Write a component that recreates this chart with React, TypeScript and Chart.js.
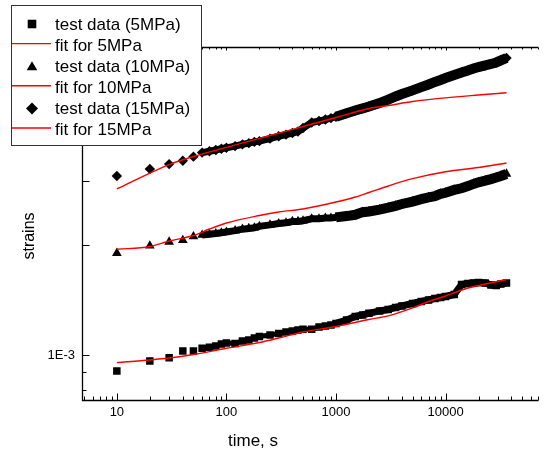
import React, { useEffect, useRef } from "react";
import { Chart, registerables } from "chart.js";

Chart.register(...registerables);

const FONT = '"Liberation Sans", Arial, Helvetica, sans-serif';
const UNIT = 1e-3; // strain values below are given in units of 1E-3

// ---- test data (time in s) ----
const testTimes = [
  10, 20, 30, 40, 50, 60, 70, 80, 90, 100,
  120, 140, 160, 180, 200,
  250, 300, 350, 400, 450, 500,
  600, 700, 800, 900, 1000,
  1250, 1500, 1750, 2000,
  2500, 3000, 3500, 4000,
  5000, 6000, 7000, 8000, 9000, 10000,
  12000, 14000, 16000, 18000, 20000,
  23000, 26000, 29000, 32000, 36000,
];

const strain5MPa = [
  0.904, 0.963, 0.983, 1.025, 1.025, 1.043, 1.05, 1.058, 1.072, 1.079,
  1.075, 1.092, 1.099, 1.113, 1.124,
  1.134, 1.145, 1.156, 1.163, 1.171, 1.176,
  1.176, 1.193, 1.2, 1.208, 1.22,
  1.247, 1.275, 1.287, 1.3,
  1.32, 1.332, 1.349, 1.362,
  1.383, 1.401, 1.414, 1.428, 1.437, 1.446,
  1.464, 1.56, 1.569, 1.574, 1.579,
  1.574, 1.555, 1.55, 1.564, 1.574,
];

const strain10MPa = [
  1.9, 1.99, 2.04, 2.06, 2.11, 2.13, 2.14, 2.15, 2.16, 2.17,
  2.19, 2.21, 2.22, 2.23, 2.25,
  2.27, 2.29, 2.3, 2.32, 2.32, 2.33,
  2.36, 2.36, 2.37, 2.37, 2.38,
  2.4, 2.42, 2.46, 2.47,
  2.5, 2.53, 2.56, 2.59,
  2.63, 2.67, 2.7, 2.72, 2.76, 2.78,
  2.83, 2.86, 2.9, 2.94, 2.97,
  3.0, 3.03, 3.06, 3.09, 3.13,
];

const strain15MPa = [
  3.09, 3.23, 3.33, 3.4, 3.49, 3.58, 3.61, 3.64, 3.67, 3.69,
  3.73, 3.77, 3.8, 3.83, 3.85,
  3.91, 3.97, 4.01, 4.05, 4.09, 4.18,
  4.33, 4.37, 4.41, 4.45, 4.49,
  4.59, 4.67, 4.73, 4.79,
  4.89, 5.0, 5.1, 5.18,
  5.3, 5.41, 5.5, 5.59, 5.66, 5.73,
  5.84, 5.93, 6.01, 6.08, 6.14,
  6.2, 6.26, 6.32, 6.4, 6.5,
];

// ---- fits ----
const fit5Times = [10, 20, 30, 50, 100, 200, 300, 500, 1000, 2000, 3000, 5000, 7000, 10000, 15000, 20000, 36000];
const fit5MPa = [0.953, 0.969, 0.981, 1.003, 1.043, 1.082, 1.113, 1.156, 1.197, 1.251, 1.279, 1.345, 1.401, 1.45, 1.516, 1.55, 1.609];

const fit10Times = [10, 20, 30, 50, 70, 100, 200, 300, 500, 1000, 1500, 2000, 3000, 5000, 10000, 20000, 36000];
const fit10MPa = [1.947, 1.981, 2.051, 2.123, 2.212, 2.297, 2.409, 2.463, 2.509, 2.622, 2.706, 2.784, 2.901, 3.038, 3.173, 3.26, 3.354];

const fit15Times = [10, 20, 30, 50, 100, 200, 300, 500, 1000, 2000, 3000, 5000, 10000, 20000, 36000];
const fit15MPa = [2.847, 3.148, 3.321, 3.494, 3.699, 3.915, 4.048, 4.22, 4.467, 4.727, 4.817, 4.94, 5.056, 5.147, 5.22];

// ---- axes ----
const X_MIN = 4.806;
const X_MAX = 70410;
const Y_MIN = 7.53e-4;
const Y_MAX = 6.966e-3;
const xLabelTicks = [10, 100, 1000, 10000];
const yLabelTicks = [1e-3];
const yMajorMarks = [1e-3, 2e-3, 3e-3, 4e-3, 5e-3, 6e-3];
const yMinorMarks = [8e-4, 9e-4];
const X_TITLE = "time, s";
const Y_TITLE = "strains";
const legendLabels = [
  "test data (5MPa)",
  "fit for 5MPa",
  "test data (10MPa)",
  "fit for 10MPa",
  "test data (15MPa)",
  "fit for 15MPa",
];
const legendKinds = ["rect", "line", "triangle", "line", "rectRot", "line"];

const toPoints = (ts: number[], vs: number[]) => ts.map((t, i) => ({ x: t, y: vs[i] * UNIT }));

function testSet(label: string, ts: number[], vs: number[], style: string, radius: number, thin: number, thick: number) {
  return {
    type: "line" as const,
    label,
    data: toPoints(ts, vs),
    order: 2,
    borderColor: "#000",
    backgroundColor: "#000",
    borderWidth: thin,
    pointStyle: style,
    pointRadius: radius,
    pointBorderWidth: 0,
    pointBackgroundColor: "#000",
    pointBorderColor: "#000",
    fill: false,
    tension: 0,
    segment: {
      borderColor: (c: any) => (c.p0.parsed.x < 55 ? "rgba(0,0,0,0)" : "#000"),
      borderWidth: (c: any) => (c.p0.parsed.x < 1000 ? thin : thick),
    },
  };
}

function fitSet(label: string, ts: number[], vs: number[]) {
  return {
    type: "line" as const,
    label,
    data: toPoints(ts, vs),
    order: 1,
    borderColor: "#ff0000",
    backgroundColor: "#ff0000",
    borderWidth: 1.4,
    pointRadius: 0,
    fill: false,
    cubicInterpolationMode: "monotone" as const,
  };
}

function drawMarker(ctx: CanvasRenderingContext2D, kind: string, x: number, y: number) {
  ctx.fillStyle = "#000";
  ctx.beginPath();
  if (kind === "rect") {
    ctx.rect(x - 4.3, y - 4.3, 8.6, 8.6);
  } else if (kind === "triangle") {
    ctx.moveTo(x, y - 5);
    ctx.lineTo(x + 5.3, y + 4);
    ctx.lineTo(x - 5.3, y + 4);
    ctx.closePath();
  } else {
    ctx.moveTo(x, y - 6);
    ctx.lineTo(x + 6, y);
    ctx.lineTo(x, y + 6);
    ctx.lineTo(x - 6, y);
    ctx.closePath();
  }
  ctx.fill();
}

const framePlugin = {
  id: "frame",
  beforeDraw(chart: any) {
    const ctx = chart.ctx;
    ctx.save();
    ctx.fillStyle = "#fff";
    ctx.fillRect(0, 0, chart.width, chart.height);
    ctx.restore();
  },
  afterDatasetsDraw(chart: any) {
    const { ctx, chartArea: a, scales } = chart;
    const xs = scales.x;
    const ys = scales.y;
    const L = Math.round(a.left) + 0.5;
    const B = Math.round(a.bottom) + 0.5;
    const T = Math.round(a.top) + 0.5;
    const R = a.right;
    ctx.save();
    ctx.strokeStyle = "#000";
    ctx.lineWidth = 1.3;
    ctx.beginPath();
    ctx.moveTo(L, T);
    ctx.lineTo(R, T);
    ctx.moveTo(L, T);
    ctx.lineTo(L, B);
    ctx.lineTo(R, B);
    ctx.stroke();

    ctx.lineWidth = 1;
    ctx.beginPath();
    for (let d = 0; d <= 5; d++) {
      for (let k = 1; k <= 9; k++) {
        const v = k * Math.pow(10, d);
        if (v < X_MIN || v > X_MAX) continue;
        const px = Math.round(xs.getPixelForValue(v)) + 0.5;
        const major = k === 1;
        ctx.moveTo(px, B);
        ctx.lineTo(px, B - (major ? 7 : 4));
        ctx.moveTo(px, T);
        ctx.lineTo(px, T + (major ? 3 : 2));
      }
    }
    for (const v of yMajorMarks) {
      const py = Math.round(ys.getPixelForValue(v)) + 0.5;
      ctx.moveTo(L, py);
      ctx.lineTo(L + 7, py);
    }
    for (const v of yMinorMarks) {
      const py = Math.round(ys.getPixelForValue(v)) + 0.5;
      ctx.moveTo(L, py);
      ctx.lineTo(L + 4, py);
    }
    ctx.stroke();

    // axis titles
    ctx.fillStyle = "#000";
    ctx.font = `17px ${FONT}`;
    ctx.textAlign = "center";
    ctx.textBaseline = "alphabetic";
    ctx.fillText(X_TITLE, 253, 446);
    ctx.save();
    ctx.translate(33.5, 236);
    ctx.rotate(-Math.PI / 2);
    ctx.font = `16px ${FONT}`;
    ctx.fillText(Y_TITLE, 0, 0);
    ctx.restore();

    // legend box
    ctx.fillStyle = "#fff";
    ctx.fillRect(11, 5, 191, 141);
    ctx.strokeStyle = "#333";
    ctx.lineWidth = 1;
    ctx.strokeRect(11.5, 5.5, 190, 140);
    ctx.font = `17px ${FONT}`;
    ctx.textAlign = "left";
    ctx.textBaseline = "alphabetic";
    legendLabels.forEach((label, i) => {
      const base = 29.6 + i * 21.1;
      const mid = base - 5.6;
      const kind = legendKinds[i];
      if (kind === "line") {
        ctx.strokeStyle = "#ff0000";
        ctx.lineWidth = 1.4;
        ctx.beginPath();
        ctx.moveTo(12, mid - 1.5);
        ctx.lineTo(51, mid - 1.5);
        ctx.stroke();
      } else {
        drawMarker(ctx, kind, 32, mid);
      }
      ctx.fillStyle = "#000";
      ctx.fillText(label, 55, base);
    });
    ctx.restore();
  },
};

const fmtE = (v: number) => {
  const e = Math.round(Math.log10(v));
  const m = Math.round((v / Math.pow(10, e)) * 100) / 100;
  return `${m}E${e}`;
};

export default function App() {
  const ref = useRef<HTMLCanvasElement | null>(null);
  useEffect(() => {
    if (!ref.current) return;
    const chart = new Chart(ref.current, {
      type: "line",
      data: {
        datasets: [
          fitSet("fit for 5MPa", fit5Times, fit5MPa),
          fitSet("fit for 10MPa", fit10Times, fit10MPa),
          fitSet("fit for 15MPa", fit15Times, fit15MPa),
          testSet("test data (5MPa)", testTimes, strain5MPa, "rect", 5.3, 5, 7),
          testSet("test data (10MPa)", testTimes, strain10MPa, "triangle", 5.6, 7, 10),
          testSet("test data (15MPa)", testTimes, strain15MPa, "rectRot", 5.2, 7, 10),
        ] as any,
      },
      options: {
        responsive: false,
        maintainAspectRatio: false,
        animation: false,
        events: [],
        layout: { padding: { top: 47, left: 0, right: 0, bottom: 0 } },
        plugins: {
          legend: { display: false },
          tooltip: { enabled: false },
          title: { display: false },
        },
        scales: {
          x: {
            type: "logarithmic",
            position: "bottom",
            min: X_MIN,
            max: X_MAX,
            grid: { display: false, drawTicks: false },
            border: { display: false },
            ticks: {
              font: { family: FONT, size: 13 },
              color: "#000",
              padding: 5,
              maxRotation: 0,
              autoSkip: false,
              callback: (v: any) => String(v),
            },
            afterBuildTicks: (s: any) => {
              s.ticks = xLabelTicks.map((v) => ({ value: v }));
            },
            afterFit: (s: any) => {
              s.height = 51;
            },
          },
          y: {
            type: "logarithmic",
            position: "left",
            min: Y_MIN,
            max: Y_MAX,
            grid: { display: false, drawTicks: false },
            border: { display: false },
            ticks: {
              font: { family: FONT, size: 13 },
              color: "#000",
              padding: 7,
              autoSkip: false,
              callback: (v: any) => fmtE(Number(v)),
            },
            afterBuildTicks: (s: any) => {
              s.ticks = yLabelTicks.map((v) => ({ value: v }));
            },
            afterFit: (s: any) => {
              s.width = 82;
            },
          },
        },
      } as any,
      plugins: [framePlugin],
    });
    return () => chart.destroy();
  }, []);
  return (
    <div style={{ position: "absolute", left: 0, top: 0, width: 544, height: 451, background: "#fff" }}>
      <canvas ref={ref} width={544} height={451} style={{ display: "block", width: 544, height: 451 }} />
    </div>
  );
}
